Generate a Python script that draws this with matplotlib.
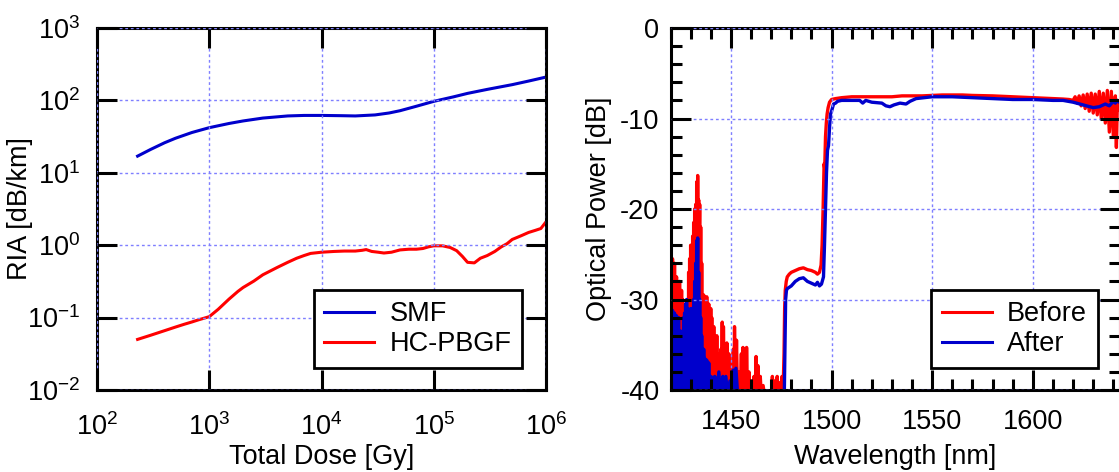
import math

import matplotlib
matplotlib.use("Agg")
import matplotlib.pyplot as plt
from matplotlib import ticker

# ------------------------------------------------------
# Style
# ------------------------------------------------------
plt.rcParams["font.family"] = ["Liberation Sans", "DejaVu Sans"]
plt.rcParams["mathtext.fontset"] = "custom"
plt.rcParams["mathtext.rm"] = "Liberation Sans"
plt.rcParams["mathtext.it"] = "Liberation Sans:italic"
plt.rcParams["mathtext.bf"] = "Liberation Sans:bold"
plt.rcParams["mathtext.default"] = "regular"
plt.rcParams["axes.unicode_minus"] = False

BLUE = "#0000cc"
RED = "#ff0000"
GRID = "#7f7fff"
FS = 19.5

# ------------------------------------------------------
# Data – left panel (RIA vs total dose)
# ------------------------------------------------------
smf_dose = [230, 300, 400, 500, 700, 1000, 1500, 2000, 3000, 5000, 7000,
            1e4, 1.5e4, 2e4, 3e4, 4e4, 5e4, 7e4, 1e5, 1.5e5, 2e5, 3e5,
            5e5, 7e5, 1e6]
smf_ria = [17, 21, 26, 30, 36, 42, 48, 52, 57, 61, 62,
           62, 61.5, 61, 63, 67, 72, 83, 97, 112, 125, 142,
           165, 185, 210]

hc_dose = [230, 300, 400, 500, 600, 700, 800, 1000, 1200, 1500, 1800,
           2000, 2500, 3000, 4000, 5000, 6000, 7000, 8000, 1e4, 1.3e4,
           1.6e4, 2e4, 2.3e4, 2.5e4, 2.8e4, 3.2e4, 3.6e4, 4.2e4, 5e4,
           6e4, 7e4, 8e4, 9e4, 1e5, 1.2e5, 1.4e5, 1.6e5, 1.8e5, 2e5,
           2.3e5, 2.6e5, 3e5, 3.5e5, 4e5, 4.5e5, 5e5, 6e5, 7e5, 8e5,
           9e5, 1e6]
hc_ria = [0.05, 0.057, 0.066, 0.074, 0.081, 0.087, 0.093, 0.103, 0.13,
          0.18, 0.23, 0.26, 0.32, 0.39, 0.49, 0.58, 0.66, 0.72, 0.77,
          0.80, 0.82, 0.83, 0.83, 0.85, 0.87, 0.82, 0.80, 0.78, 0.80,
          0.86, 0.88, 0.88, 0.90, 0.95, 0.98, 0.98, 0.93, 0.84, 0.70,
          0.58, 0.57, 0.66, 0.72, 0.82, 0.95, 1.05, 1.2, 1.35, 1.5, 1.6,
          1.7, 2.1]

# ------------------------------------------------------
# Data – right panel (transmission spectrum)
# ------------------------------------------------------
before_wl = [
    1420.0, 1420.25, 1420.5, 1420.75, 1421.0, 1421.25, 1421.5, 1421.75,
    1422.0, 1422.25, 1422.5, 1422.75, 1423.0, 1423.25, 1423.5, 1423.75,
    1424.0, 1424.25, 1424.5, 1424.75, 1425.0, 1425.25, 1425.5, 1425.75,
    1426.0, 1426.25, 1426.5, 1426.75, 1427.0, 1427.25, 1427.5, 1427.75,
    1428.0, 1428.25, 1428.5, 1428.75, 1429.0, 1429.25, 1429.5, 1429.75,
    1430.0, 1430.25, 1430.5, 1430.75, 1431.0, 1431.25, 1431.5, 1431.75,
    1432.0, 1432.25, 1432.5, 1432.75, 1433.0, 1433.25, 1433.5, 1433.75,
    1434.0, 1434.25, 1434.5, 1434.75, 1435.0, 1435.25, 1435.5, 1435.75,
    1436.0, 1436.25, 1436.5, 1436.75, 1437.0, 1437.25, 1437.5, 1437.75,
    1438.0, 1438.25, 1438.5, 1438.75, 1439.0, 1439.25, 1439.5, 1439.75,
    1440.0, 1440.25, 1440.5, 1440.75, 1441.0, 1441.25, 1441.5, 1441.75,
    1442.0, 1442.5, 1443.0, 1443.5, 1444.0, 1444.5, 1445.0, 1445.3,
    1445.7, 1446.0, 1446.3, 1446.8, 1447.2, 1447.6, 1448.0, 1448.5,
    1449.0, 1449.5, 1450.0, 1450.6, 1451.2, 1451.5, 1451.8, 1452.3,
    1452.8, 1453.3, 1454.0, 1454.6, 1455.2, 1455.6, 1456.0, 1456.5,
    1457.0, 1457.5, 1457.8, 1458.3, 1459.0, 1459.6, 1460.3, 1461.0,
    1461.5, 1462.0, 1462.5, 1463.0, 1463.4, 1464.0, 1464.6, 1465.2,
    1466.0, 1467.0, 1470.0, 1470.6, 1471.2, 1471.8, 1472.4, 1473.0,
    1473.6, 1474.2, 1474.8, 1475.4, 1476.0, 1476.4, 1476.7, 1477.0,
    1477.5, 1478.0, 1479.0, 1480.0, 1482.0, 1484.0, 1486.0, 1488.0,
    1490.0, 1492.0, 1493.0, 1494.0, 1494.8, 1495.3, 1495.8, 1496.3,
    1496.6, 1497.0, 1497.4, 1497.8, 1498.3, 1499.0, 1500.0, 1502.0,
    1505.0, 1510.0, 1515.0, 1520.0, 1525.0, 1530.0, 1535.0, 1540.0,
    1545.0, 1550.0, 1555.0, 1560.0, 1565.0, 1570.0, 1580.0, 1590.0,
    1600.0, 1610.0, 1615.0, 1618.0, 1620.0, 1621.0, 1622.0, 1623.0,
    1624.0, 1625.0, 1626.0, 1627.0, 1628.0, 1629.0, 1630.0, 1631.0,
    1632.0, 1633.0, 1634.0, 1635.0, 1636.0, 1637.0, 1638.0, 1639.0,
    1640.0, 1641.0, 1641.5, 1642.0, 1643.0,
]
before_db = [
    -32, -41, -26.5, -41, -25.5, -40, -27, -41,
    -26, -41, -28, -41, -27.5, -41, -30, -41,
    -29, -41, -28, -41, -32, -41, -29, -41,
    -30, -41, -31, -41, -33, -41, -31, -41,
    -34, -41, -30, -41, -27, -41, -25.5, -41,
    -24, -41, -25, -41, -23, -41, -21.5, -41,
    -20, -41, -19.5, -41, -17, -30, -16.3, -25,
    -19, -27, -19.5, -41, -22, -41, -26, -41,
    -29.5, -41, -29.5, -41, -30, -41, -30.5, -41,
    -29.7, -41, -31, -41, -30.5, -41, -31.5, -41,
    -31, -41, -32, -41, -34, -41, -33, -41,
    -35, -41, -34, -41, -36, -41, -35.5, -41,
    -32.5, -41, -33, -41, -35, -41, -34.8, -41,
    -36, -41, -37, -41, -35.5, -41, -33, -41,
    -34.5, -41, -38, -41, -36, -41, -35.3, -41,
    -36, -41, -35.3, -41, -38, -41, -39, -41,
    -38.5, -41, -36.3, -41, -37.3, -41, -38.5, -41,
    -39.5, -41, -41, -38.5, -41, -39, -41, -38.5,
    -41, -39.2, -41, -38.5, -39.5, -36, -31, -29,
    -28, -27.5, -27.2, -27, -26.8, -26.6, -26.5, -26.7,
    -26.8, -27.0, -27.2, -27.0, -26.2, -24, -20, -15,
    -15.5, -12, -10.5, -9.5, -8.8, -8.2, -7.9, -7.8,
    -7.7, -7.6, -7.6, -7.6, -7.6, -7.6, -7.5, -7.5,
    -7.5, -7.45, -7.4, -7.4, -7.4, -7.45, -7.5, -7.6,
    -7.7, -7.8, -7.85, -7.9, -8.0, -7.6, -8.3, -7.5,
    -8.6, -7.4, -8.9, -7.3, -9.2, -7.2, -9.4, -7.3,
    -9.6, -7.0, -10.0, -7.2, -10.5, -6.9, -11.5, -7.0,
    -12.0, -7.5, -13.2, -8.0, -9.0,
]

after_wl = [
    1420.0, 1420.25, 1420.5, 1420.75, 1421.0, 1421.25, 1421.5, 1421.75,
    1422.0, 1422.25, 1422.5, 1422.75, 1423.0, 1423.25, 1423.5, 1423.75,
    1424.0, 1424.25, 1424.5, 1424.75, 1425.0, 1425.25, 1425.5, 1425.75,
    1426.0, 1426.25, 1426.5, 1426.75, 1427.0, 1427.25, 1427.5, 1427.75,
    1428.0, 1428.25, 1428.5, 1428.75, 1429.0, 1429.25, 1429.5, 1429.75,
    1430.0, 1430.25, 1430.5, 1430.75, 1431.0, 1431.25, 1431.5, 1431.75,
    1432.0, 1432.25, 1432.5, 1432.75, 1433.0, 1433.25, 1433.5, 1433.75,
    1434.0, 1434.25, 1434.5, 1434.75, 1435.0, 1435.25, 1435.5, 1435.75,
    1436.0, 1436.25, 1436.5, 1436.75, 1437.0, 1437.5, 1438.0, 1438.5,
    1439.0, 1439.5, 1440.0, 1440.5, 1441.0, 1441.5, 1442.0, 1443.0,
    1444.0, 1445.0, 1446.0, 1446.5, 1447.5, 1448.5, 1449.5, 1450.5,
    1451.2, 1451.8, 1452.5, 1453.5, 1476.5, 1476.8, 1477.2, 1477.6,
    1478.0, 1480.0, 1482.0, 1484.0, 1486.0, 1488.0, 1490.0, 1492.0,
    1493.0, 1494.0, 1495.0, 1496.0, 1496.5, 1497.0, 1497.5, 1498.0,
    1498.5, 1499.0, 1499.5, 1500.0, 1500.5, 1501.0, 1502.0, 1503.0,
    1505.0, 1510.0, 1514.0, 1515.5, 1517.0, 1520.0, 1525.0, 1527.0,
    1529.0, 1531.0, 1534.0, 1537.0, 1539.0, 1542.0, 1546.0, 1550.0,
    1560.0, 1570.0, 1580.0, 1590.0, 1600.0, 1610.0, 1615.0, 1620.0,
    1625.0, 1630.0, 1633.0, 1636.0, 1638.0, 1640.0, 1641.0, 1642.0,
    1643.0,
]
after_db = [
    -33, -41, -31.5, -41, -31.2, -41, -32, -41,
    -31.5, -41, -32.3, -41, -31.8, -41, -33, -41,
    -32, -41, -34, -41, -33.5, -41, -34, -41,
    -33.5, -41, -32, -41, -31.5, -41, -30.5, -41,
    -30, -41, -31, -41, -31.5, -41, -32, -41,
    -31, -41, -31.5, -41, -31, -41, -30, -41,
    -28, -41, -26, -41, -23.5, -30, -23.2, -35,
    -27, -41, -30, -41, -32, -41, -34, -41,
    -35.6, -41, -35.5, -41, -36.5, -41, -36.7, -41,
    -37, -41, -38.5, -41, -38.6, -41, -38.5, -41,
    -38, -41, -38.5, -41, -38.5, -41, -39, -41,
    -37.8, -41, -37.6, -41, -41, -36, -30, -29,
    -28.8, -28.5, -28.0, -27.7, -27.6, -28.0, -28.2, -28.4,
    -28.1, -28.5, -28.3, -27.5, -24, -20, -16, -13.5,
    -13, -11, -9.5, -9.2, -8.8, -8.4, -8.3, -8.1,
    -8.0, -8.0, -8.0, -8.3, -8.0, -8.2, -8.3, -8.6,
    -8.7, -8.5, -8.3, -8.4, -8.1, -7.8, -7.7, -7.6,
    -7.6, -7.7, -7.8, -7.9, -7.9, -8.0, -8.0, -8.2,
    -8.5, -8.8, -8.7, -8.4, -8.6, -8.1, -8.3, -8.0,
    -8.2,
]

dose_ticks = [1e2, 1e3, 1e4, 1e5, 1e6]
ria_ticks = [1e-2, 1e-1, 1e0, 1e1, 1e2, 1e3]
wl_ticks = [1450, 1500, 1550, 1600]
power_ticks = [-40, -30, -20, -10, 0]


def pow10_label(v, pos):
    return r"$10^{%d}$" % round(math.log10(v))


def style_axes(ax):
    for sp in ax.spines.values():
        sp.set_linewidth(2.2)
    ax.tick_params(which="both", direction="in", top=True, right=True,
                   labelsize=FS, width=2.2, color="black")
    ax.tick_params(which="major", length=14.5)
    ax.tick_params(which="minor", length=8)
    ax.grid(True, which="major", color=GRID, linestyle=(0, (2, 2)), linewidth=1.0)
    ax.set_axisbelow(False)


def make_legend(ax, anchor):
    leg = ax.legend(loc="lower right", bbox_to_anchor=anchor,
                    borderaxespad=0, fontsize=FS, frameon=True, fancybox=False,
                    edgecolor="black", framealpha=1, handlelength=1.85,
                    labelspacing=0.15, borderpad=0.4, handletextpad=0.55)
    leg.get_frame().set_linewidth(2.0)
    for line in leg.get_lines():
        line.set_linewidth(2.2)
    return leg


fig = plt.figure(figsize=(11.19, 4.72), dpi=100)

# ------------------------------------------------------
# Left panel
# ------------------------------------------------------
ax1 = fig.add_axes([97 / 1119, 82 / 472, 449 / 1119, 362 / 472])
ax1.loglog(smf_dose, smf_ria, color=BLUE, lw=2.2, label="SMF")
ax1.loglog(hc_dose, hc_ria, color=RED, lw=2.2, label="HC-PBGF")
ax1.set_xlim(1e2, 1e6)
ax1.set_ylim(1e-2, 1e3)
ax1.xaxis.set_major_locator(ticker.FixedLocator(dose_ticks))
ax1.yaxis.set_major_locator(ticker.FixedLocator(ria_ticks))
ax1.xaxis.set_minor_locator(ticker.NullLocator())
ax1.yaxis.set_minor_locator(ticker.NullLocator())
ax1.xaxis.set_major_formatter(ticker.FuncFormatter(pow10_label))
ax1.yaxis.set_major_formatter(ticker.FuncFormatter(pow10_label))
style_axes(ax1)
ax1.tick_params(axis="x", pad=17)
ax1.tick_params(axis="y", pad=12)
ax1.set_xlabel("Total Dose [Gy]", fontsize=FS, labelpad=2)
ax1.set_ylabel("RIA [dB/km]", fontsize=FS, labelpad=-4)
make_legend(ax1, (0.947, 0.061))

# ------------------------------------------------------
# Right panel
# ------------------------------------------------------
ax2 = fig.add_axes([670.5 / 1119, 82 / 472, 449.5 / 1119, 362 / 472])
ax2.plot(before_wl, before_db, color=RED, lw=2.4, label="Before")
ax2.plot(after_wl, after_db, color=BLUE, lw=2.4, label="After")
ax2.set_xlim(1420, 1643.3)
ax2.set_ylim(-40, 0)
ax2.xaxis.set_major_locator(ticker.FixedLocator(wl_ticks))
ax2.xaxis.set_minor_locator(ticker.MultipleLocator(10))
ax2.yaxis.set_major_locator(ticker.FixedLocator(power_ticks))
ax2.yaxis.set_minor_locator(ticker.MultipleLocator(2))
style_axes(ax2)
ax2.tick_params(axis="x", pad=14)
ax2.tick_params(axis="y", pad=8)
ax2.set_xlabel("Wavelength [nm]", fontsize=FS, labelpad=6)
ax2.set_ylabel("Optical Power [dB]", fontsize=FS, labelpad=6)
make_legend(ax2, (0.951, 0.061))

fig.savefig("out.png", dpi=100)
